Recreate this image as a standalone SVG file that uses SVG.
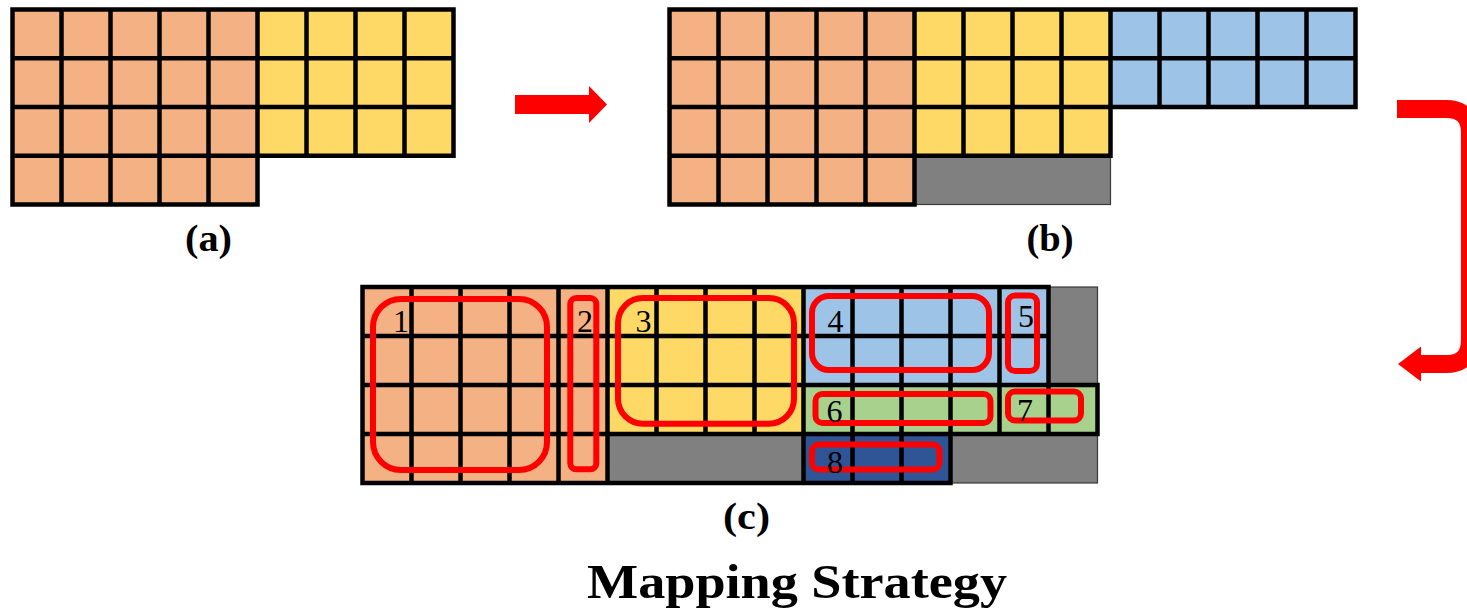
<svg xmlns="http://www.w3.org/2000/svg" width="1467" height="610" viewBox="0 0 1467 610">
  <style>
    .or { fill: #F4B183; }
    .ye { fill: #FFD966; }
    .bl { fill: #9DC3E6; }
    .gn { fill: #A9D18E; }
    .db { fill: #2F5597; }
    .gy { fill: #808080; stroke: #3a3a3a; stroke-width: 1.2; }
    .grid { fill: none; stroke: #000; stroke-width: 4.5; stroke-linecap: square; }
    .grp { fill: none; stroke: #FF0000; stroke-width: 6; }
    .num { font-family: "Liberation Serif", "Times New Roman", serif; font-size: 32px; fill: #000; text-anchor: middle; }
    .cap { font-family: "Liberation Serif", "Times New Roman", serif; font-weight: bold; font-size: 37px; fill: #000; }
    .title { font-family: "Liberation Serif", "Times New Roman", serif; font-weight: bold; font-size: 49px; fill: #000; }
    .arrow { fill: #FF0000; }
  </style>

  <!-- (a) initial layout: 5x4 orange block, 4x3 yellow block -->
  <g id="grid-a">
    <rect class="or" x="12.5" y="9.5" width="245" height="195"/>
    <rect class="ye" x="257.5" y="9.5" width="196" height="146.25"/>
    <path class="grid" d="M12.5 9.5V204.5M61.5 9.5V204.5M110.5 9.5V204.5M159.5 9.5V204.5M208.5 9.5V204.5M257.5 9.5V204.5
      M306.5 9.5V155.75M355.5 9.5V155.75M404.5 9.5V155.75M453.5 9.5V155.75
      M12.5 9.5H453.5M12.5 58.25H453.5M12.5 107H453.5M12.5 155.75H453.5M12.5 204.5H257.5"/>
    <text class="cap" x="185" y="251" textLength="47" lengthAdjust="spacingAndGlyphs">(a)</text>
  </g>

  <!-- (b) layout with the blue block appended and padding -->
  <g id="grid-b">
    <rect class="or" x="669.5" y="9.5" width="245" height="195"/>
    <rect class="ye" x="914.5" y="9.5" width="196" height="146.25"/>
    <rect class="bl" x="1110.5" y="9.5" width="245" height="97.5"/>
    <rect class="gy" x="914.5" y="155.75" width="196" height="48.75"/>
    <path class="grid" d="M669.5 9.5V204.5M718.5 9.5V204.5M767.5 9.5V204.5M816.5 9.5V204.5M865.5 9.5V204.5M914.5 9.5V204.5
      M963.5 9.5V155.75M1012.5 9.5V155.75M1061.5 9.5V155.75M1110.5 9.5V155.75
      M1159.5 9.5V107M1208.5 9.5V107M1257.5 9.5V107M1306.5 9.5V107M1355.5 9.5V107
      M669.5 9.5H1355.5M669.5 58.25H1355.5M669.5 107H1355.5M669.5 155.75H1110.5M669.5 204.5H914.5"/>
    <text class="cap" x="1026.5" y="251" textLength="47" lengthAdjust="spacingAndGlyphs">(b)</text>
  </g>

  <!-- (c) mapped layout with numbered groups -->
  <g id="grid-c">
    <rect class="or" x="362.5" y="287" width="245" height="196"/>
    <rect class="ye" x="607.5" y="287" width="196" height="147"/>
    <rect class="gy" x="607.5" y="434" width="196" height="49"/>
    <rect class="bl" x="803.5" y="287" width="245" height="98"/>
    <rect class="gy" x="1048.5" y="287" width="49" height="98"/>
    <rect class="gn" x="803.5" y="385" width="294" height="49"/>
    <rect class="db" x="803.5" y="434" width="147" height="49"/>
    <rect class="gy" x="950.5" y="434" width="147" height="49"/>
    <path class="grid" d="M362.5 287V483M411.5 287V483M460.5 287V483M509.5 287V483M558.5 287V483M607.5 287V483
      M656.5 287V434M705.5 287V434M754.5 287V434
      M803.5 287V483M852.5 287V483M901.5 287V483M950.5 287V483
      M999.5 287V434M1048.5 287V434M1097.5 385V434
      M362.5 287H1048.5M362.5 336H1048.5M362.5 385H1097.5M362.5 434H1097.5M362.5 483H950.5"/>
    <text class="cap" x="723" y="529" textLength="47" lengthAdjust="spacingAndGlyphs">(c)</text>
  </g>

  <!-- grouping outlines -->
  <g id="groups">
    <rect class="grp" x="373" y="299" width="174" height="171" rx="28"/>
    <rect class="grp" x="570.3" y="298" width="26" height="171.3" rx="6"/>
    <rect class="grp" x="618" y="298" width="176" height="125.7" rx="25"/>
    <rect class="grp" x="812" y="296" width="177" height="74" rx="17"/>
    <rect class="grp" x="1008" y="295.5" width="29" height="75.5" rx="7"/>
    <rect class="grp" x="815.5" y="394" width="175" height="29" rx="7"/>
    <rect class="grp" x="1008" y="391.5" width="73" height="29" rx="7"/>
    <rect class="grp" x="812" y="444.5" width="127.5" height="25" rx="7"/>
    <text class="num" x="401" y="332">1</text>
    <text class="num" x="585" y="332">2</text>
    <text class="num" x="643.5" y="332">3</text>
    <text class="num" x="835.5" y="332">4</text>
    <text class="num" x="1026" y="327">5</text>
    <text class="num" x="834.5" y="422">6</text>
    <text class="num" x="1025" y="420.5">7</text>
    <text class="num" x="835" y="473">8</text>
  </g>

  <!-- connectors -->
  <g id="connectors">
    <polygon class="arrow" points="515,95 589,95 589,86 607,104.5 589,123 589,114 515,114"/>
    <path d="M1397 109H1446Q1470 109 1470 133V340Q1470 364 1446 364H1419" fill="none" stroke="#FF0000" stroke-width="18"/>
    <polygon class="arrow" points="1398,364 1421,346.5 1421,381.5"/>
  </g>

  <text id="title" class="title" x="587" y="598" textLength="420" lengthAdjust="spacingAndGlyphs">Mapping Strategy</text>
</svg>
